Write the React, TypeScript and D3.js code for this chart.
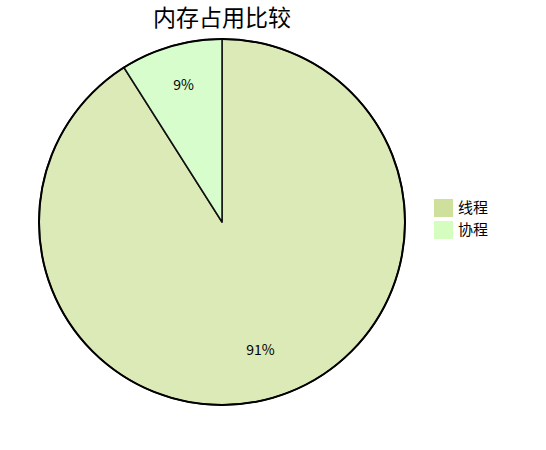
import { arc as d3Arc, pie as d3Pie, scaleOrdinal } from "d3";

const categories = ["线程", "协程"];
const values = [91, 9];
const labels = ["91%", "9%"];
const sliceColors = ["#dbeab7", "#d8fdcd"];
const legendColors = ["#cee09b", "#d5fdc0"];

const width = 546;
const height = 450;
const cx = 222;
const cy = 222;
const radius = 183;
const font = "'Noto Sans CJK SC', 'Noto Sans', sans-serif";

export default function App() {
  const data = categories.map((name, i) => ({ name, value: values[i], label: labels[i] }));
  const fill = scaleOrdinal<string, string>().domain(categories).range(sliceColors);
  const swatch = scaleOrdinal<string, string>().domain(categories).range(legendColors);

  const arcs = d3Pie<{ name: string; value: number; label: string }>()
    .sort(null)
    .value((d) => d.value)(data);

  const arcGen = d3Arc<any>().innerRadius(0).outerRadius(radius);
  const labelArc = d3Arc<any>().innerRadius(138).outerRadius(138);

  return (
    <svg
      width={width}
      height={height}
      style={{ position: "absolute", left: 0, top: 0 }}
      fontFamily={font}
    >
      <text x={cx} y={26} textAnchor="middle" fontSize={23} fill="#000">
        内存占用比较
      </text>
      <g transform={`translate(${cx},${cy})`}>
        {arcs.map((a) => (
          <path
            key={a.data.name}
            d={arcGen(a) ?? ""}
            fill={fill(a.data.name)}
            stroke="#111"
            strokeWidth={1.5}
            strokeLinejoin="round"
          />
        ))}
        <circle r={radius} fill="none" stroke="#000" strokeWidth={2} />
        {arcs.map((a) => {
          const [x, y] = labelArc.centroid(a);
          // label text sits a little above its anchor point
          return (
            <text
              key={`l-${a.data.name}`}
              x={x}
              y={y - 4}
              dy="0.35em"
              textAnchor="middle"
              fontSize={14}
              fill="#000"
            >
              {a.data.label}
            </text>
          );
        })}
      </g>
      <g transform="translate(434,199)">
        {categories.map((name, i) => (
          <g key={`lg-${name}`} transform={`translate(0,${i * 22})`}>
            <rect width={19} height={18} fill={swatch(name)} />
            <text x={24} y={9} dy="0.36em" fontSize={15} fill="#000">
              {name}
            </text>
          </g>
        ))}
      </g>
    </svg>
  );
}
